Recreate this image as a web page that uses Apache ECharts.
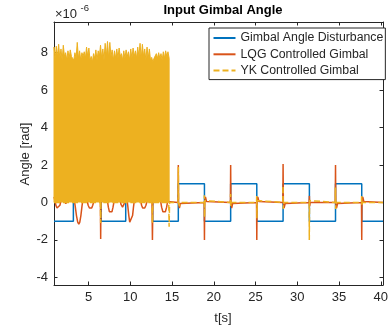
<!DOCTYPE html>
<html>
<head>
<meta charset="utf-8">
<script src="https://cdn.jsdelivr.net/npm/echarts@6/dist/echarts.min.js"></script>
<style>
  html, body { margin: 0; padding: 0; background: #fff; }
  #chart { width: 391px; height: 331px; }
</style>
</head>
<body>
<div id="chart"></div>
<script>
// axis ranges (units of 1e-6 rad)
const xMin = 0.86, xMax = 40.27;
const yMin = -4.41, yMax = 9.64;
const xTicks = [5, 10, 15, 20, 25, 30, 35, 40];
const yTicks = [-4, -2, 0, 2, 4, 6, 8];

// disturbance square wave: switch times and levels between them
const disturbanceSwitchT = [3.18, 6.52, 9.45, 12.68, 15.75, 18.88, 22.02, 25.15, 28.3, 31.45, 34.58, 37.72];
const disturbanceLevels = [-1, 1, -1, 1, -1, 1, -1, 1, -1, 1, -1, 1, -1];

// LQG response
const lqgPoints = [
  [0.86, 0.3], [1.0, 0.05], [1.1, -0.18], [1.22, -0.3], [1.33, -0.32], [1.45, -0.28], [1.57, -0.15], [1.7, 0.1], [1.9, 0.4],
  [2.1, 0.1], [2.27, -0.06], [2.45, 0.1], [2.8, 0.4],
  [3.3, 0.1], [3.4, -0.2], [3.55, -0.7], [3.7, -1.05], [3.83, -1.16], [3.95, -1.05], [4.08, -0.7], [4.2, -0.25], [4.3, 0.1], [4.55, 0.4],
  [4.85, 0.05], [4.95, -0.15], [5.1, -0.3], [5.23, -0.34], [5.38, -0.3], [5.5, -0.15], [5.63, 0.05], [5.9, 0.4],
  [6.3, 0.2], [6.42, 0], [6.45, -1.95], [6.48, 0], [6.7, 0.4],
  [7.27, 0.05], [7.37, -0.25], [7.5, -0.5], [7.66, -0.6], [7.8, -0.5], [7.93, -0.25], [8.05, 0.05], [8.4, 0.4],
  [8.8, 0.05], [8.9, -0.12], [9.07, -0.25], [9.22, -0.12], [9.35, 0.05], [9.5, 0.3],
  [9.62, 0.1], [9.7, -0.2], [9.82, -0.7], [9.93, -1.05], [10.04, -1.15], [10.15, -1.05], [10.27, -0.7], [10.38, -0.25], [10.48, 0.1], [10.8, 0.4],
  [11.26, 0.05], [11.35, -0.15], [11.48, -0.3], [11.6, -0.33], [11.73, -0.3], [11.87, -0.15], [12.0, 0.05], [12.3, 0.3],
  [12.6, 0], [12.65, -2.0], [12.7, 0], [12.9, 0.4],
  [13.64, 0.05], [13.75, -0.25], [13.9, -0.5], [14.05, -0.6], [14.2, -0.5], [14.35, -0.25], [14.47, 0.05], [14.6, 0],
  [15.72, 0], [15.75, 2.0], [15.78, 0], [15.88, -0.3], [16.0, -0.05], [16.2, 0],
  [18.85, 0], [18.88, -2.0], [18.91, 0], [19.0, 0.3], [19.12, 0.05], [19.3, 0],
  [21.99, 0], [22.02, 2.0], [22.05, 0], [22.14, -0.3], [22.26, -0.05], [22.4, 0],
  [25.12, 0], [25.15, -2.0], [25.18, 0], [25.27, 0.3], [25.4, 0.05], [25.55, 0],
  [28.27, 0], [28.3, 2.05], [28.33, 0], [28.42, -0.3], [28.55, -0.05], [28.7, 0],
  [31.42, 0], [31.45, 0.35], [31.48, -0.2], [31.55, 0],
  [34.55, 0], [34.58, 2.0], [34.61, 0], [34.7, -0.3], [34.83, -0.05], [35.0, 0],
  [37.69, 0], [37.72, -2.0], [37.75, 0], [37.84, 0.3], [37.97, 0.05], [38.1, 0],
  [40.27, 0]
];

// YK response (line part)
const ykPoints = [
  [0.86, 0], [6.42, 0], [6.45, -1.1], [6.48, 0], [12.6, 0], [12.65, -1.1], [12.7, 0],
  [14.6, 0], [14.65, -1.3], [14.7, 0],
  [15.72, 0], [15.75, 1.9], [15.78, 0], [15.9, -0.2], [16.0, 0],
  [18.85, 0], [18.87, 0.38], [18.9, -0.78], [18.93, 0.1], [19.0, 0],
  [21.99, 0], [22.01, 0.45], [22.04, -0.2], [22.1, 0],
  [25.12, 0], [25.14, 0.35], [25.17, -0.85], [25.2, 0.1], [25.27, 0],
  [28.27, 0], [28.29, 0.9], [28.32, -0.35], [28.38, 0],
  [31.42, 0], [31.44, -2.0], [31.47, 0.1], [31.52, 0],
  [34.55, 0], [34.57, 0.8], [34.6, -0.35], [34.66, 0],
  [37.69, 0], [37.71, 0.35], [37.74, -0.2], [37.8, 0],
  [40.27, 0]
];

// YK noisy start: top envelope of the dense oscillation (0 .. ~8)
const ykBlockStart = 0.86, ykBlockEnd = 14.65;
const ykBlockTop = [
  8.3, 7.7, 8.35, 7.8, 8.45, 7.7, 8.2, 7.6, 8.4, 7.8,
  8.0, 7.6, 8.1, 7.7, 8.15, 7.8, 7.9, 7.6, 8.0, 7.7,
  8.55, 7.7, 8.1, 7.6, 8.0, 7.8, 8.05, 7.7, 8.3, 7.8,
  8.25, 7.6, 7.8, 7.5, 7.95, 7.7, 8.15, 7.6, 8.1, 7.8,
  8.4, 7.7, 8.2, 7.6, 8.5, 7.8, 8.6, 7.7, 8.55, 7.8,
  8.15, 7.6, 8.1, 7.7, 8.2, 7.7, 8.25, 7.8, 7.95, 7.6,
  8.1, 7.7, 8.15, 7.8, 8.05, 7.6, 8.2, 7.7, 8.25, 7.8,
  8.1, 7.7, 8.3, 7.8, 8.5, 7.7, 8.45, 7.8, 8.2, 7.6,
  8.3, 7.7, 8.2, 7.6, 7.75, 7.5, 7.7, 7.6, 7.95, 7.7,
  8.0, 7.7, 7.95, 7.6, 8.05, 7.7, 8.1, 7.8, 8.05, 7.7
];

const seriesNames = ['Gimbal Angle Disturbance', 'LQG Controlled Gimbal', 'YK Controlled Gimbal'];
const colors = ['#0072BD', '#D95319', '#EDB120'];
const font = 'Liberation Sans, Arial, Helvetica, sans-serif';
const ink = '#262626';

// build disturbance step line
const disturbanceData = [[xMin, disturbanceLevels[0]]];
disturbanceSwitchT.forEach((t, i) => {
  disturbanceData.push([t, disturbanceLevels[i]]);
  disturbanceData.push([t, disturbanceLevels[i + 1]]);
});
disturbanceData.push([xMax, disturbanceLevels[disturbanceLevels.length - 1]]);

// build block outline
const blockStep = (ykBlockEnd - ykBlockStart) / (ykBlockTop.length - 1);
const blockData = [[ykBlockStart, 0]];
ykBlockTop.forEach((v, i) => blockData.push([ykBlockStart + i * blockStep, v]));
blockData.push([ykBlockEnd, 0]);

const chart = echarts.init(document.getElementById('chart'));

const axisCommon = {
  type: 'value',
  splitLine: { show: false },
  axisLine: { show: true, onZero: false, lineStyle: { color: ink, width: 1 } },
  axisTick: { show: true, inside: true, length: 3.5, lineStyle: { color: ink } }
};

const option = {
  animation: false,
  backgroundColor: '#fff',
  grid: { left: 54, top: 22, right: 1, bottom: 46, containLabel: false },
  xAxis: [
    {
      ...axisCommon, position: 'bottom', min: xMin, max: xMax,
      axisTick: { ...axisCommon.axisTick, customValues: xTicks },
      axisLabel: { customValues: xTicks, color: ink, fontSize: 13, fontFamily: font, margin: 6 }
    },
    {
      ...axisCommon, position: 'top', min: xMin, max: xMax,
      axisTick: { ...axisCommon.axisTick, customValues: xTicks },
      axisLabel: { show: false }
    }
  ],
  yAxis: [
    {
      ...axisCommon, position: 'left', min: yMin, max: yMax,
      axisTick: { ...axisCommon.axisTick, customValues: yTicks },
      axisLabel: { customValues: yTicks, color: ink, fontSize: 13, fontFamily: font, margin: 6 }
    },
    {
      ...axisCommon, position: 'right', min: yMin, max: yMax,
      axisTick: { ...axisCommon.axisTick, customValues: yTicks },
      axisLabel: { show: false }
    }
  ],
  legend: {
    data: seriesNames,
    orient: 'vertical',
    left: 209,
    top: 28,
    padding: [4, 2, 3, 3.5],
    itemWidth: 22,
    itemHeight: 12,
    itemGap: 4.3,
    itemStyle: { opacity: 0 },
    backgroundColor: '#fff',
    borderColor: ink,
    borderWidth: 1,
    borderRadius: 0,
    selectedMode: false,
    z: 10,
    textStyle: { color: ink, fontSize: 12.3, fontFamily: font, lineHeight: 12 }
  },
  graphic: [
    { type: 'text', x: 223, y: 10, style: { text: 'Input Gimbal Angle', font: 'bold 13px ' + font, fill: '#000', textAlign: 'center', textVerticalAlign: 'middle' } },
    { type: 'text', x: 223, y: 318, style: { text: 't[s]', font: '13px ' + font, fill: ink, textAlign: 'center', textVerticalAlign: 'middle' } },
    { type: 'text', x: 25, y: 154, rotation: Math.PI / 2, style: { text: 'Angle [rad]', font: '13px ' + font, fill: ink, textAlign: 'center', textVerticalAlign: 'middle' } },
    { type: 'text', x: 55, y: 14, style: { text: '×10', font: '13px ' + font, fill: ink, textVerticalAlign: 'middle' } },
    { type: 'text', x: 80.5, y: 8, style: { text: '-6', font: '9.5px ' + font, fill: ink, textVerticalAlign: 'middle' } }
  ],
  series: [
    {
      name: seriesNames[0], type: 'line', data: disturbanceData, symbol: 'none', z: 2,
      lineStyle: { color: colors[0], width: 1.5 }, itemStyle: { color: colors[0] }
    },
    {
      name: seriesNames[1], type: 'line', data: lqgPoints, symbol: 'none', z: 3,
      lineStyle: { color: colors[1], width: 1.5 }, itemStyle: { color: colors[1] }
    },
    {
      name: 'YK block', type: 'line', data: blockData, symbol: 'none', silent: true, z: 4,
      lineStyle: { color: colors[2], width: 1 }, areaStyle: { color: colors[2], opacity: 1 }
    },
    {
      name: seriesNames[2], type: 'line', data: ykPoints, symbol: 'none', z: 5,
      lineStyle: { color: colors[2], width: 1.5, type: [6, 3] }, itemStyle: { color: colors[2] }
    }
  ]
};

chart.setOption(option);
</script>
</body>
</html>
